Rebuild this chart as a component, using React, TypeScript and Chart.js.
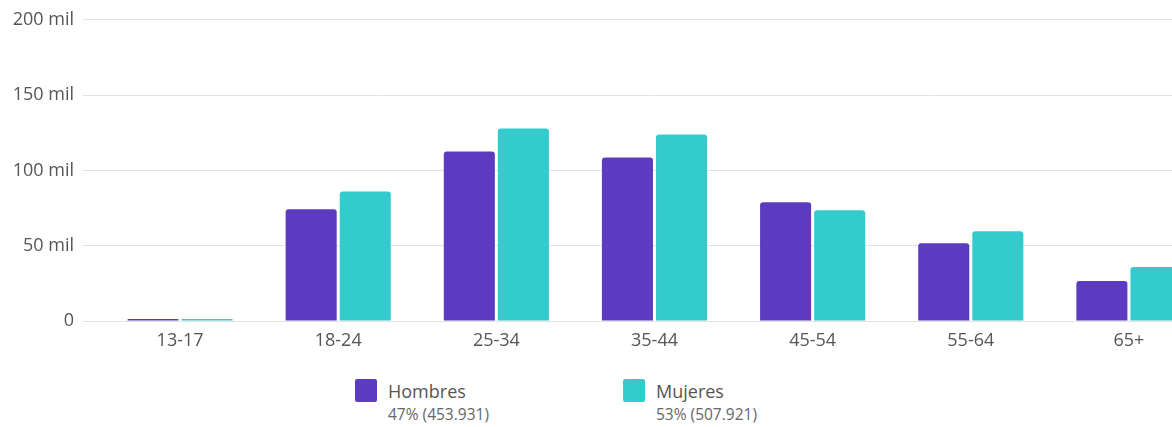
import React, { useEffect, useRef } from "react";
import { Chart, registerables } from "chart.js";

Chart.register(...registerables);

const categories = ["13-17", "18-24", "25-34", "35-44", "45-54", "55-64", "65+"];
const hombres = [1300, 74200, 112600, 108600, 78800, 51700, 26500];
const mujeres = [1400, 86000, 127800, 123800, 73500, 59600, 35800];
const seriesNames = ["Hombres", "Mujeres"];
const seriesSummary = ["47% (453.931)", "53% (507.921)"];
const yTicks = [0, 50000, 100000, 150000, 200000];

const PURPLE = "#5C3BC0";
const TEAL = "#34CBCC";
const FONT = "'Open Sans', 'Noto Sans', sans-serif";

export default function App() {
  const ref = useRef<HTMLCanvasElement | null>(null);

  useEffect(() => {
    if (!ref.current) return;
    const chart = new Chart(ref.current, {
      type: "bar",
      data: {
        labels: categories,
        datasets: [
          {
            label: seriesNames[0],
            data: hombres,
            backgroundColor: PURPLE,
            borderRadius: { topLeft: 3, topRight: 3 },
            borderSkipped: "bottom",
            categoryPercentage: 0.684,
            barPercentage: 0.944,
          },
          {
            label: seriesNames[1],
            data: mujeres,
            backgroundColor: TEAL,
            borderRadius: { topLeft: 3, topRight: 3 },
            borderSkipped: "bottom",
            categoryPercentage: 0.684,
            barPercentage: 0.944,
          },
        ],
      },
      options: {
        animation: false,
        responsive: false,
        maintainAspectRatio: false,
        layout: { padding: { top: 10, right: 2, left: 0, bottom: 0 } },
        plugins: {
          legend: { display: false },
          tooltip: { enabled: false },
        },
        scales: {
          x: {
            grid: { display: false },
            border: { display: false },
            afterFit: (s: any) => {
              s.height = 34;
            },
            ticks: {
              color: "#555",
              font: { family: FONT, size: 18 },
              padding: 1,
              maxRotation: 0,
            },
          },
          y: {
            min: 0,
            max: 200000,
            afterFit: (s: any) => {
              s.width = 101;
            },
            afterBuildTicks: (s: any) => {
              s.ticks = yTicks.map((v) => ({ value: v }));
            },
            border: { display: false },
            grid: {
              color: "#e3e3e3",
              lineWidth: 1,
              drawTicks: true,
              tickLength: 18,
            },
            ticks: {
              color: "#555",
              font: { family: FONT, size: 18 },
              padding: 9,
              callback: (v: any) => (Number(v) === 0 ? "0" : Number(v) / 1000 + " mil"),
            },
          },
        },
      },
    });
    return () => chart.destroy();
  }, []);

  const legendColors = [PURPLE, TEAL];
  const legendX = [355, 623];

  return (
    <div
      style={{
        position: "absolute",
        left: 0,
        top: 0,
        width: 1172,
        height: 427,
        overflow: "hidden",
        background: "#fff",
        fontFamily: FONT,
      }}
    >
      <canvas
        ref={ref}
        width={1210}
        height={355}
        style={{ position: "absolute", left: 0, top: 0, width: 1210, height: 355 }}
      />
      {seriesNames.map((name, i) => (
        <div key={name} style={{ position: "absolute", left: legendX[i], top: 379 }}>
          <div
            style={{
              position: "absolute",
              left: 0,
              top: 0,
              width: 22,
              height: 23,
              borderRadius: 2,
              background: legendColors[i],
            }}
          />
          <div
            style={{
              position: "absolute",
              left: 33,
              top: 0,
              whiteSpace: "nowrap",
              fontSize: 18,
              color: "#555",
              lineHeight: "24px",
            }}
          >
            {name}
          </div>
          <div
            style={{
              position: "absolute",
              left: 33,
              top: 25,
              whiteSpace: "nowrap",
              fontSize: 15.5,
              color: "#666",
              lineHeight: "20px",
            }}
          >
            {seriesSummary[i]}
          </div>
        </div>
      ))}
    </div>
  );
}
